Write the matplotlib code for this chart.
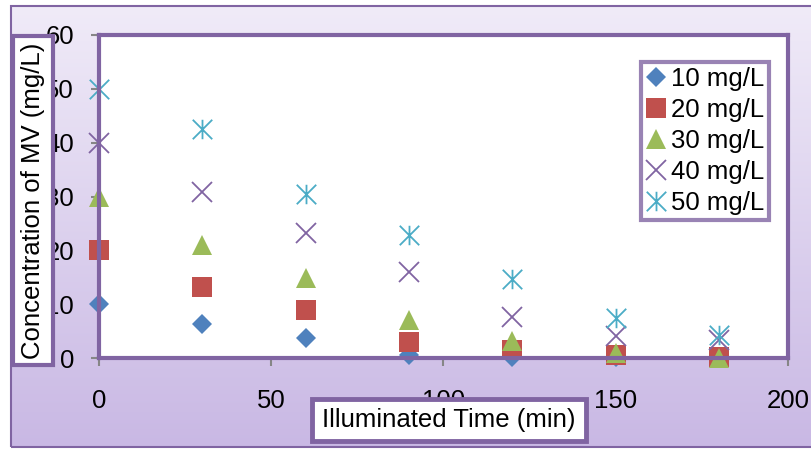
import numpy as np
import matplotlib
matplotlib.use('Agg')
import matplotlib.pyplot as plt
from matplotlib.path import Path
from matplotlib.patches import Rectangle

plt.rcParams['font.family'] = ['Liberation Sans', 'DejaVu Sans']

# data
time_min = [0, 30, 60, 90, 120, 150, 180]
c10 = [10, 6.3, 3.8, 0.5, 0.2, 0.1, 0.0]
c20 = [20, 13.2, 8.9, 2.9, 1.4, 0.6, 0.1]
c30 = [30, 21.0, 14.9, 7.1, 3.2, 1.0, 0.0]
c40 = [40, 30.8, 23.2, 16.0, 7.6, 4.1, 3.4]
c50 = [50, 42.5, 30.5, 22.9, 14.7, 7.4, 4.3]
labels = ['10 mg/L', '20 mg/L', '30 mg/L', '40 mg/L', '50 mg/L']
xticks = [0, 50, 100, 150, 200]
yticks = [0, 10, 20, 30, 40, 50, 60]

purple = '#8064a2'
W, H = 812, 449
fs = 18.5

def fx(px):
    return px / W

def fy(py):
    return 1 - py / H

fig = plt.figure(figsize=(W / 100, H / 100), dpi=100, facecolor='white')

# gradient background inside the outer border
bg = fig.add_axes([fx(11), fy(447), 1 - fx(11), fy(6) - fy(447)], zorder=-10)
top = np.array([240, 235, 248]) / 255
bot = np.array([201, 184, 228]) / 255
grad = np.linspace(0, 1, 256)[:, None, None]
img = top * (1 - grad) + bot * grad
bg.imshow(np.repeat(img, 2, axis=1), aspect='auto', extent=[0, 1, 0, 1])
bg.set_axis_off()
fig.add_artist(Rectangle((fx(11), fy(447)), 1.2, fy(6) - fy(447), transform=fig.transFigure,
                         fill=False, edgecolor=purple, lw=1.5, zorder=-5))

ax = fig.add_axes([fx(99), fy(358), fx(788) - fx(99), fy(35) - fy(358)])
ax.set_facecolor('white')

asterisk = Path([(-1, -1), (1, 1), (-1, 1), (1, -1), (0, -1), (0, 1)],
                [Path.MOVETO, Path.LINETO] * 3)

series = [c10, c20, c30, c40, c50]
markers = ['D', 's', '^', 'x', asterisk]
colors = ['#4f81bd', '#c0504d', '#9bbb59', '#8064a2', '#4bacc6']
sizes = [10.5, 14, 14, 14, 14]
for vals, m, col, ms, lab in zip(series, markers, colors, sizes, labels):
    if m in ('x',) or m is asterisk:
        ax.plot(time_min, vals, linestyle='none', marker=m, markersize=ms,
                markerfacecolor='none', markeredgecolor=col, markeredgewidth=1.3,
                label=lab, clip_on=False)
    else:
        ax.plot(time_min, vals, linestyle='none', marker=m, markersize=ms,
                color=col, markeredgewidth=0, label=lab, clip_on=False)

ax.set_xlim(0, 200)
ax.set_ylim(0, 60)
ax.set_xticks(xticks)
ax.set_yticks(yticks)
for s in ax.spines.values():
    s.set_color(purple)
    s.set_linewidth(3)
ax.tick_params(axis='both', colors='#868686', labelcolor='black', labelsize=fs,
               direction='out', length=6, width=1.5)
ax.tick_params(axis='y', pad=12)
ax.tick_params(axis='x', pad=16)

leg = ax.legend(loc='upper right', bbox_to_anchor=(fx(769), fy(62)),
                bbox_transform=fig.transFigure, fontsize=fs, frameon=True,
                fancybox=False, borderpad=0.2, labelspacing=0.27,
                handlelength=0.8, handletextpad=0.15, borderaxespad=0)
leg.get_frame().set_edgecolor(purple)
leg.get_frame().set_linewidth(3)

# y label box
fig.add_artist(Rectangle((fx(13), fy(365)), fx(53) - fx(13), fy(36) - fy(365),
                         transform=fig.transFigure, facecolor='white',
                         edgecolor=purple, lw=3, zorder=5))
fig.text(fx(33), fy(201), 'Concentration of MV (mg/L)', rotation=90,
         ha='center', va='center', fontsize=fs, zorder=6)

# x label box
fig.add_artist(Rectangle((fx(312), fy(441)), fx(586) - fx(312), fy(399) - fy(441),
                         transform=fig.transFigure, facecolor='white',
                         edgecolor=purple, lw=3.5, zorder=5))
fig.text(fx(449), fy(420), 'Illuminated Time (min)', ha='center', va='center',
         fontsize=fs, zorder=6)

fig.savefig('out.png', dpi=100)
